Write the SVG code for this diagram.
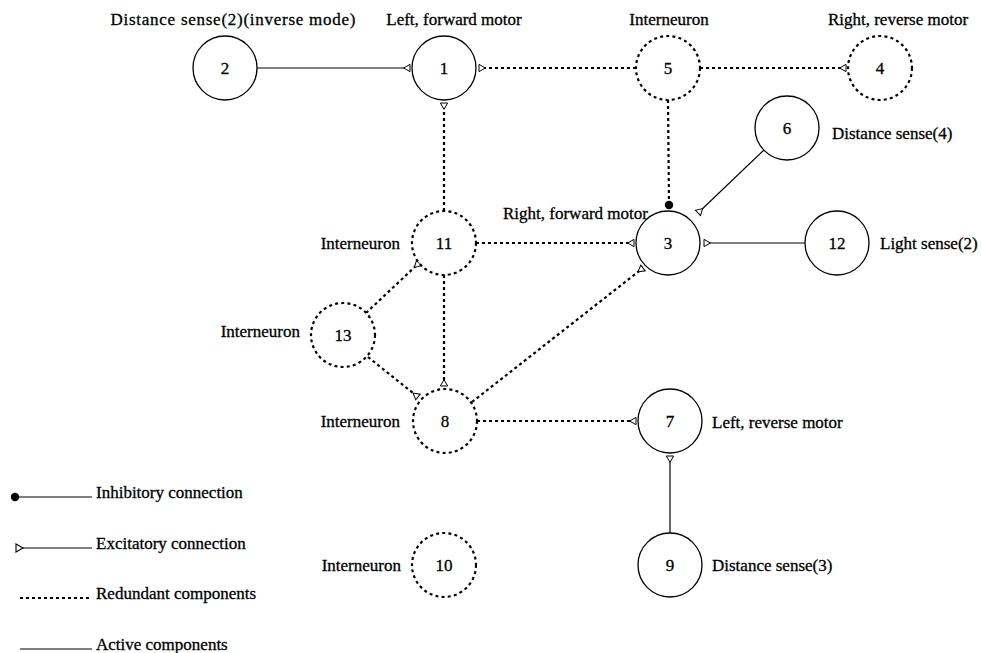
<svg xmlns="http://www.w3.org/2000/svg" width="981" height="653" viewBox="0 0 981 653">
<style>
text{font-family:"Liberation Serif","Times New Roman",serif;font-size:17px;fill:#000;stroke:#000;stroke-width:0.3}
.num{text-anchor:middle}
.mid{text-anchor:middle}
.end{text-anchor:end}
.solidn{fill:#fff;stroke:#000;stroke-width:1.3}
.dotn{fill:#fff;stroke:#000;stroke-width:2.2;stroke-dasharray:3 3.2}
.sc{stroke:#000;stroke-width:1.2;fill:none}
.dc{stroke:#000;stroke-width:2.2;stroke-dasharray:3 3;fill:none}
</style>
<defs>
<marker id="exc" markerUnits="userSpaceOnUse" markerWidth="10" markerHeight="10" refX="8" refY="4.5" orient="auto" viewBox="-1 -1 10 11">
<path d="M8,0.5 L8,8.5 L1,4.5 Z" fill="#fff" stroke="#000" stroke-width="1.1"/>
</marker>
<marker id="inh" markerUnits="userSpaceOnUse" markerWidth="10" markerHeight="10" refX="5" refY="5" orient="auto" viewBox="0 0 10 10">
<circle cx="5" cy="5" r="4.2" fill="#000"/>
</marker>
</defs>
<rect width="981" height="653" fill="#fff"/>

<g id="connectors">
<line class="sc" x1="257" y1="68" x2="410" y2="68" marker-end="url(#exc)"/>
<line class="dc" x1="636" y1="68" x2="479" y2="68" marker-end="url(#exc)"/>
<line class="dc" x1="700" y1="68" x2="846" y2="68" marker-end="url(#exc)"/>
<line class="dc" x1="444" y1="211" x2="444" y2="103" marker-end="url(#exc)"/>
<line class="dc" x1="668" y1="100" x2="669" y2="205" marker-end="url(#inh)"/>
<line class="dc" x1="476" y1="243" x2="634" y2="243" marker-end="url(#exc)"/>
<line class="sc" x1="764" y1="150" x2="698" y2="213" marker-end="url(#exc)"/>
<line class="sc" x1="805" y1="243" x2="704" y2="243" marker-end="url(#exc)"/>
<line class="dc" x1="444" y1="275" x2="444" y2="386" marker-end="url(#exc)"/>
<line class="dc" x1="366" y1="313" x2="419" y2="263" marker-end="url(#exc)"/>
<line class="dc" x1="368" y1="357" x2="418" y2="397" marker-end="url(#exc)"/>
<line class="dc" x1="472" y1="402" x2="643" y2="268" marker-end="url(#exc)"/>
<line class="dc" x1="477" y1="421" x2="636" y2="421" marker-end="url(#exc)"/>
<line class="sc" x1="670" y1="533" x2="670" y2="456" marker-end="url(#exc)"/>
</g>

<g id="n2"><circle class="solidn" cx="225" cy="68" r="32"/><text class="num" x="225" y="74">2</text></g>
<g id="n1"><circle class="solidn" cx="444" cy="68" r="32"/><text class="num" x="444" y="74">1</text></g>
<g id="n5"><circle class="dotn" cx="668" cy="68" r="32"/><text class="num" x="668" y="74">5</text></g>
<g id="n4"><circle class="dotn" cx="880" cy="68" r="32"/><text class="num" x="880" y="74">4</text></g>
<g id="n6"><circle class="solidn" cx="787" cy="128" r="32"/><text class="num" x="787" y="134">6</text></g>
<g id="n3"><circle class="solidn" cx="668" cy="243" r="32"/><text class="num" x="668" y="249">3</text></g>
<g id="n12"><circle class="solidn" cx="837" cy="243" r="32"/><text class="num" x="837" y="249">12</text></g>
<g id="n11"><circle class="dotn" cx="444" cy="243" r="32"/><text class="num" x="444" y="249">11</text></g>
<g id="n13"><circle class="dotn" cx="343" cy="335" r="32"/><text class="num" x="343" y="341">13</text></g>
<g id="n8"><circle class="dotn" cx="445" cy="421" r="32"/><text class="num" x="445" y="427">8</text></g>
<g id="n7"><circle class="solidn" cx="670" cy="421" r="32"/><text class="num" x="670" y="427">7</text></g>
<g id="n9"><circle class="solidn" cx="670" cy="565" r="32"/><text class="num" x="670" y="571">9</text></g>
<g id="n10"><circle class="dotn" cx="444" cy="565" r="32"/><text class="num" x="444" y="571">10</text></g>

<g id="labels">
<text class="mid" x="233" y="25" textLength="245" lengthAdjust="spacing">Distance sense(2)(inverse mode)</text>
<text class="mid" x="454" y="25">Left, forward motor</text>
<text class="mid" x="669" y="25">Interneuron</text>
<text class="mid" x="898" y="25">Right, reverse motor</text>
<text x="832" y="139">Distance sense(4)</text>
<text x="503" y="219">Right, forward motor</text>
<text class="end" x="400" y="249">Interneuron</text>
<text x="880" y="249">Light sense(2)</text>
<text class="end" x="300" y="337">Interneuron</text>
<text class="end" x="400" y="427">Interneuron</text>
<text x="712" y="428">Left, reverse motor</text>
<text class="end" x="401" y="571">Interneuron</text>
<text x="712" y="571">Distance sense(3)</text>
</g>

<g id="legend">
<circle cx="15" cy="497" r="4.2" fill="#000"/>
<line class="sc" x1="15" y1="497" x2="92" y2="497"/>
<text x="96" y="498">Inhibitory connection</text>
<line class="sc" x1="22" y1="548" x2="92" y2="548"/>
<path d="M16,544 L16,552 L23,548 Z" fill="#fff" stroke="#000" stroke-width="1.1"/>
<text x="96" y="549">Excitatory connection</text>
<line class="dc" x1="20" y1="598" x2="92" y2="598"/>
<text x="96" y="599">Redundant components</text>
<line class="sc" x1="20" y1="649" x2="92" y2="649"/>
<text x="96" y="650">Active components</text>
</g>
</svg>
